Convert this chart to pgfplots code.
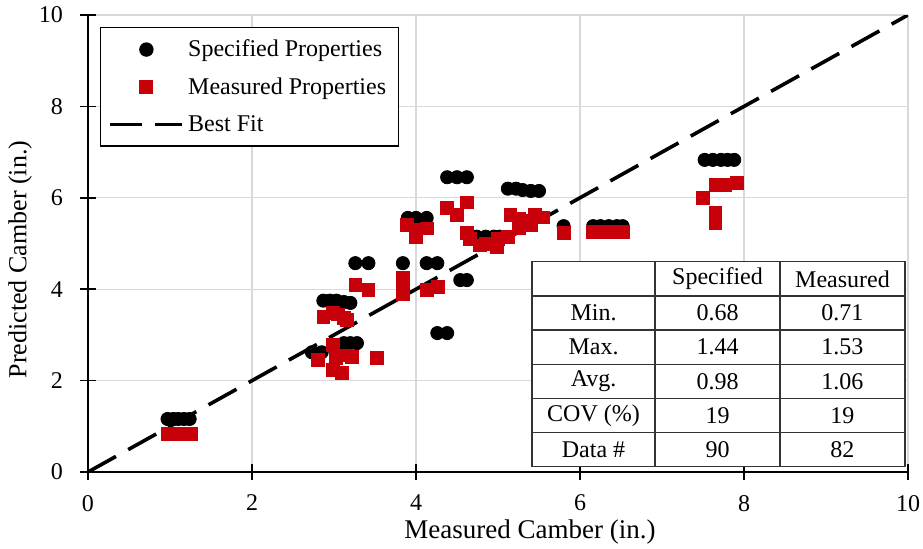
\documentclass[border=0pt]{standalone}
\usepackage{fontspec}
\setmainfont{Liberation Serif}
\usepackage{pgfplots}
\usepackage{pgfplotstable}
\pgfplotsset{compat=1.18}

\definecolor{measred}{RGB}{200,0,10}
\definecolor{gridgray}{RGB}{217,217,217}

\pgfplotsset{
  markleg/.style={legend image code/.code={%
    \draw[##1, only marks, mark repeat=2, mark phase=2] plot coordinates {(0pt,0pt) (18pt,0pt) (36pt,0pt)};}},
  lineleg/.style={legend image code/.code={%
    \draw[##1, dash pattern=on 16pt off 6.5pt] (0pt,0pt) -- (36pt,0pt);}},
}

% specified properties (black dots)
\pgfplotstableread{
x y
0.97 1.16
1.04 1.16
1.10 1.16
1.17 1.16
1.24 1.16
2.73 2.62
2.85 2.62
3.12 2.82
3.20 2.82
3.28 2.82
2.87 3.75
2.95 3.75
3.03 3.75
3.12 3.72
3.20 3.70
3.26 4.57
3.42 4.57
3.84 4.57
4.13 4.57
4.26 4.57
3.90 5.56
4.00 5.56
4.13 5.56
4.26 3.04
4.38 3.04
4.38 6.45
4.50 6.45
4.62 6.45
4.54 4.20
4.62 4.20
4.74 5.15
4.85 5.15
4.95 5.15
5.02 5.15
5.12 6.20
5.22 6.20
5.30 6.17
5.40 6.15
5.50 6.15
5.80 5.38
6.16 5.38
6.25 5.38
6.35 5.38
6.45 5.38
6.52 5.38
7.52 6.83
7.62 6.83
7.72 6.83
7.80 6.83
7.88 6.83
}\specdata

% measured properties (red squares)
\pgfplotstableread{
x y
0.97 0.83
1.05 0.83
1.12 0.83
1.19 0.83
1.25 0.83
2.80 2.45
2.99 2.78
2.99 2.23
3.10 2.17
3.22 2.52
3.15 2.55
3.02 2.50
3.52 2.49
2.87 3.39
2.99 3.48
3.16 3.33
3.05 3.45
3.12 3.38
3.26 4.09
3.42 3.98
3.84 4.26
3.84 4.08
3.84 3.90
4.13 3.98
4.27 4.05
3.89 5.40
4.00 5.15
4.13 5.33
4.00 5.30
4.38 5.78
4.50 5.62
4.62 5.90
4.62 5.23
4.66 5.10
4.78 4.96
4.85 5.00
4.99 4.93
5.00 5.10
5.12 5.14
5.15 5.62
5.25 5.55
5.35 5.50
5.45 5.62
5.55 5.57
5.25 5.35
5.40 5.40
5.80 5.23
6.16 5.25
6.25 5.25
6.35 5.25
6.45 5.25
6.52 5.25
7.50 6.00
7.65 6.28
7.77 6.28
7.91 6.33
7.65 5.67
7.65 5.45
}\measdata

\begin{document}
\begin{tikzpicture}
\begin{axis}[
  name=ax,
  width=410pt, height=228.5pt,
  scale only axis,
  xmin=0, xmax=10, ymin=0, ymax=10,
  xtick={0,2,...,10}, ytick={0,2,...,10},
  axis lines*=left,
  axis line style={-, black, line width=0.8pt},
  tick align=center,
  major tick length=8pt,
  tick style={black, line width=0.8pt},
  grid=major,
  major grid style={gridgray, line width=0.6pt},
  ticklabel style={font=\fontsize{12}{14}\selectfont},
  xticklabel style={yshift=-4pt},
  yticklabel style={xshift=-5pt},
  /pgf/number format/assume math mode=true,
  xlabel={Measured Camber (in.)},
  ylabel={Predicted Camber (in.)},
  xlabel style={font=\fontsize{13.5}{15}\selectfont,
    at={([xshift=16pt,yshift=-30pt]axis description cs:0.5,0)}, anchor=center},
  ylabel style={font=\fontsize{13}{15}\selectfont,
    at={([xshift=-34pt,yshift=-8pt]axis description cs:0,0.5)}, anchor=center},
  legend style={
    at={(0,1)}, xshift=6pt, yshift=-6pt, anchor=north west,
    draw=black, line width=0.6pt,
    font=\fontsize{12}{14}\selectfont,
    row sep=5pt, inner sep=4pt,
    /tikz/every even column/.append style={column sep=2pt},
  },
  legend cell align=left,
]
% best fit line, drawn first so that the markers sit on it
\addplot[black, line width=1.8pt, dash pattern=on 16pt off 7pt, forget plot]
  coordinates {(0,0) (10,10)};

\addplot[only marks, mark=*, mark size=3.3pt, black, markleg]
  table[x=x, y=y] {\specdata};
\addlegendentry{Specified Properties}

\addplot[only marks, mark=square*, mark size=3.2pt, measred, markleg]
  table[x=x, y=y] {\measdata};
\addlegendentry{Measured Properties}

\addlegendimage{black, line width=1.8pt, lineleg}
\addlegendentry{Best Fit}

% statistics table
\fill[white] (axis cs:5.415,0.118) rectangle (axis cs:9.963,4.60);
\draw[black!80, line width=0.6pt] (axis cs:5.415,0.118) rectangle (axis cs:9.963,4.60);
\draw[black!80, line width=0.6pt] (axis cs:5.415,3.853) -- (axis cs:9.963,3.853);
\draw[black!80, line width=0.6pt] (axis cs:5.415,3.106) -- (axis cs:9.963,3.106);
\draw[black!80, line width=0.6pt] (axis cs:5.415,2.359) -- (axis cs:9.963,2.359);
\draw[black!80, line width=0.6pt] (axis cs:5.415,1.612) -- (axis cs:9.963,1.612);
\draw[black!80, line width=0.6pt] (axis cs:5.415,0.865) -- (axis cs:9.963,0.865);
\draw[black!80, line width=0.6pt] (axis cs:6.915,0.118) -- (axis cs:6.915,4.60);
\draw[black!80, line width=0.6pt] (axis cs:8.439,0.118) -- (axis cs:8.439,4.60);
\begin{scope}[every node/.style={font=\fontsize{12}{14}\selectfont}]
\node at (axis cs:7.677,4.2265) {Specified};
\node at (axis cs:9.201,4.2265) {Measured};
\node at (axis cs:6.165,3.4795) {Min.};
\node at (axis cs:7.677,3.4795) {0.68};
\node at (axis cs:9.201,3.4795) {0.71};
\node at (axis cs:6.165,2.7325) {Max.};
\node at (axis cs:7.677,2.7325) {1.44};
\node at (axis cs:9.201,2.7325) {1.53};
\node at (axis cs:6.165,1.9855) {Avg.};
\node at (axis cs:7.677,1.9855) {0.98};
\node at (axis cs:9.201,1.9855) {1.06};
\node at (axis cs:6.165,1.2385) {COV (\%)};
\node at (axis cs:7.677,1.2385) {19};
\node at (axis cs:9.201,1.2385) {19};
\node at (axis cs:6.165,0.4915) {Data \#};
\node at (axis cs:7.677,0.4915) {90};
\node at (axis cs:9.201,0.4915) {82};
\end{scope}
\end{axis}
\pgfresetboundingbox
\path[use as bounding box] ([xshift=-44pt,yshift=-38pt]ax.south west) rectangle ([xshift=7.5pt,yshift=7.5pt]ax.north east);
\end{tikzpicture}
\end{document}
